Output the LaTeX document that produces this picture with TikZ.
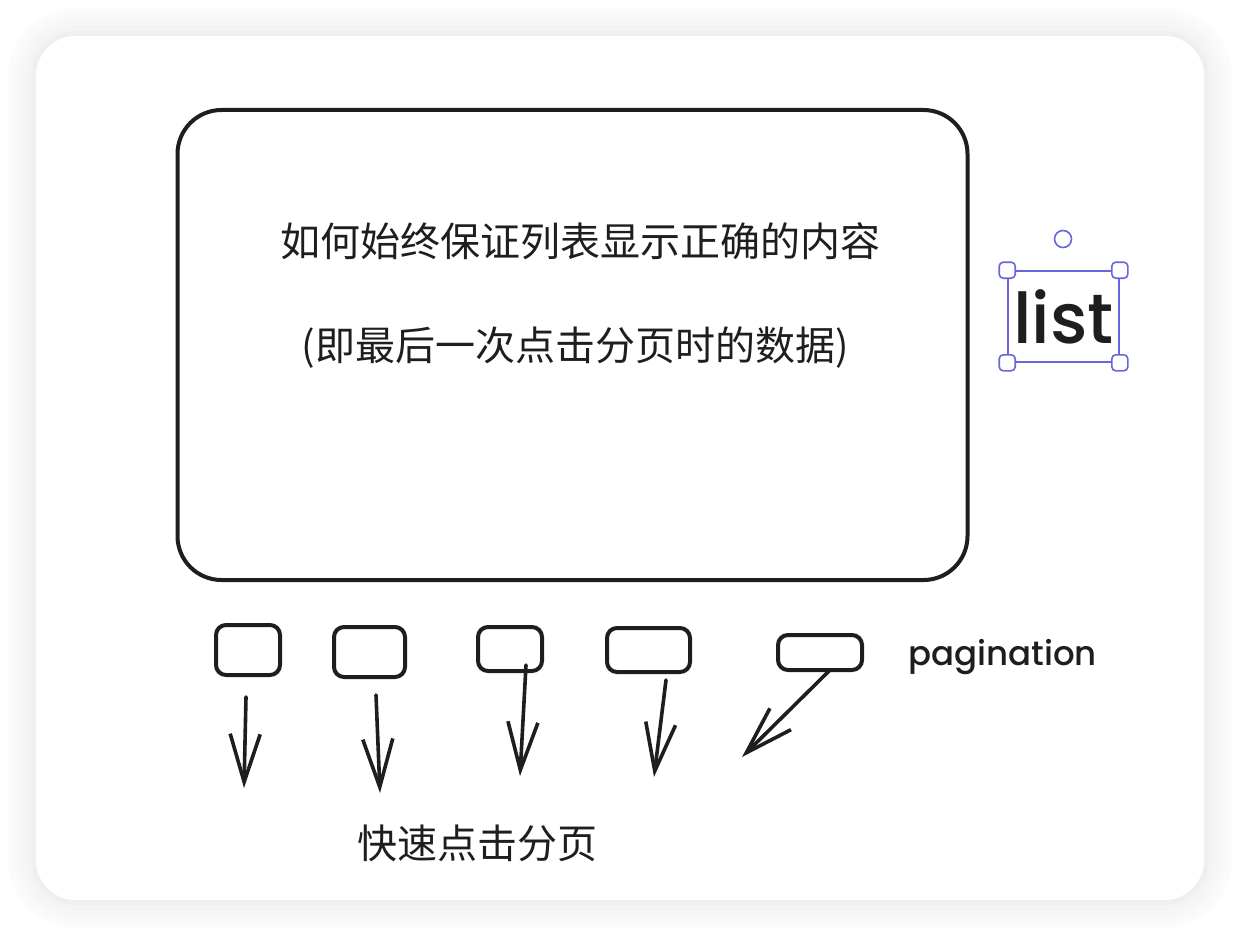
\documentclass[tikz,border=0pt]{standalone}
\usepackage{fontspec}
\setmainfont{Poppins}[UprightFont=* Medium]
\newfontfamily\cjk{Noto Sans CJK SC}
\usepackage{tikz}
\usetikzlibrary{arrows.meta,positioning}
\usepackage{xcolor}
\definecolor{ink}{HTML}{1E1E1E}
\definecolor{selectc}{HTML}{6965DB}
\definecolor{canvas}{HTML}{FFFFFF}
\tikzset{
  % ---- sketch shapes ----------------------------------------------------
  panel/.style={
    draw=ink, line width=2pt, rounded corners=22pt, fill=canvas,
    minimum width=395pt, minimum height=235pt, inner sep=0pt},
  pagebox/.style={
    draw=ink, line width=2pt, rounded corners=5pt, fill=canvas,
    inner sep=0pt},
  % ---- selection frame --------------------------------------------------
  handle/.style={
    draw=selectc, line width=0.8pt, fill=white, rounded corners=2pt,
    minimum size=8pt, inner sep=0pt},
  rotor/.style={
    circle, draw=selectc, line width=0.8pt, fill=white,
    minimum size=8.5pt, inner sep=0pt},
  % ---- arrows -----------------------------------------------------------
  ar/.style={-{Straight Barb[length=24pt,width=15pt,line width=1.8pt]},
             draw=ink, line width=1.8pt, line cap=round},
  % ---- labels -----------------------------------------------------------
  lbl/.style={font=\cjk\fontsize{20}{24}\selectfont, text=ink, inner sep=0pt},
  hand/.style={font=\fontsize{17}{20}\selectfont, text=ink, inner sep=0pt},
}

\begin{document}
\begin{tikzpicture}[x=0.5pt,y=-0.5pt]

\useasboundingbox (0,0) rectangle (1240,936);

% card with soft shadow
\foreach \d/\c in {28/3,22/5,16/7,10/9,5/12}
  \fill[gray!\c, rounded corners=20pt+0.5pt*\d]
    (36-\d,36-\d) rectangle (1204+\d,900+\d);
\fill[white, rounded corners=20pt] (36,36) rectangle (1204,900);

% ============================ list panel ==================================
\node[panel] (listbox) at (572.5,345) {};
\node[lbl] (title) at (580,241) {如何始终保证列表显示正确的内容};
\node[lbl] (subtitle) at (575,348) {(即最后一次点击分页时的数据)};

% selected text element
\node[hand, font=\fontsize{35}{40}\selectfont, minimum width=55.5pt,
      minimum height=45.5pt, draw=selectc, line width=0.8pt]
  (listtag) at (1063.5,316.5) {list};
\foreach \a in {north west,north east,south west,south east}
  \node[handle] at (listtag.\a) {};
\node[rotor] (turn) at (1063,239) {};

% ============================ pagination ==================================
\node[pagebox, minimum width=32pt,   minimum height=25pt]   (page1) at (248,650)   {};
\node[pagebox, minimum width=35.5pt, minimum height=25pt]   (page2) at (369.5,652) {};
\node[pagebox, minimum width=32pt,   minimum height=22pt]   (page3) at (510,649)   {};
\node[pagebox, minimum width=41.5pt, minimum height=22pt]   (page4) at (648.5,650) {};
\node[pagebox, minimum width=42pt,   minimum height=17.5pt] (page5) at (820,652.5) {};
\node[hand, anchor=west] (pagination) at (908,657) {pagination};

% quick clicks
\coordinate (s1) at (246,697);  \coordinate (e1) at (244,788);
\coordinate (s2) at (376,695);  \coordinate (e2) at (380,793);
\coordinate (s3) at (526,665);  \coordinate (e3) at (520,776);
\coordinate (s4) at (666,680);  \coordinate (e4) at (654,777);
\coordinate (s5) at (830,670);  \coordinate (e5) at (742,757);
\foreach \i in {1,...,5} { \draw[ar] (s\i) -- (e\i); }

\node[lbl] (clicks) at (477,843) {快速点击分页};

\end{tikzpicture}
\end{document}
